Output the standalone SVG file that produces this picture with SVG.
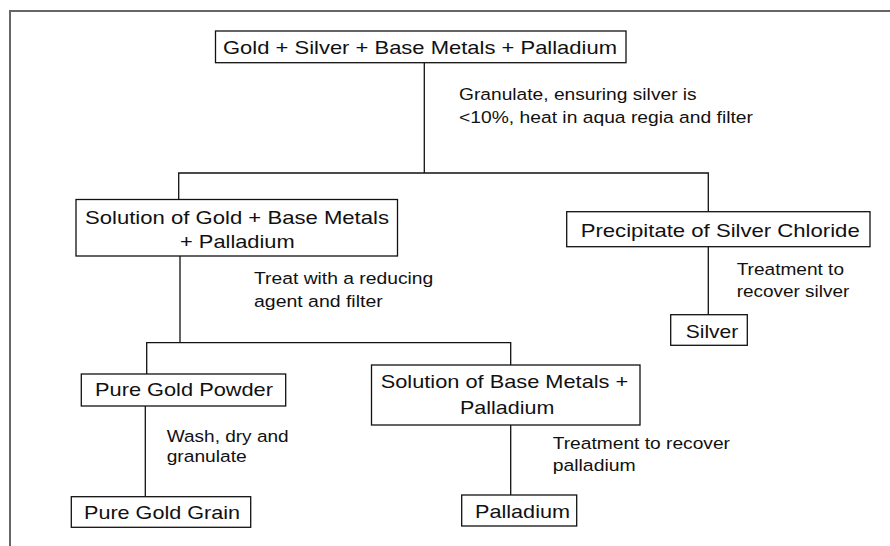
<svg xmlns="http://www.w3.org/2000/svg" width="890" height="546" viewBox="0 0 890 546">
<style>
.box{fill:#fff;stroke:#111;stroke-width:1.3}
.bt{font-family:"Liberation Sans",Arial,sans-serif;font-size:18.6px;fill:#111}
.lt{font-family:"Liberation Sans",Arial,sans-serif;font-size:16.8px;fill:#111}
.conn{fill:none;stroke:#111;stroke-width:1.3}
</style>
<rect width="890" height="546" fill="#fff"/>
<path d="M10 546 V11 H890" fill="none" stroke="#666" stroke-width="2"/>
<g id="connectors" class="conn">
<path d="M424.3 62.7 V173"/>
<path d="M178.7 199.5 V173 H708.3 V211.7"/>
<path d="M180 256 V342.7"/>
<path d="M146.7 374 V342.7 H510.7 V365"/>
<path d="M708.3 246.7 V314.7"/>
<path d="M145.3 406 V496.7"/>
<path d="M510.7 425 V495"/>
</g>
<g id="labels">
<text class="lt" x="459" y="100" textLength="237.7" lengthAdjust="spacingAndGlyphs">Granulate, ensuring silver is</text>
<text class="lt" x="459" y="123" textLength="294" lengthAdjust="spacingAndGlyphs">&lt;10%, heat in aqua regia and filter</text>
<text class="lt" x="254" y="284.3" textLength="179.3" lengthAdjust="spacingAndGlyphs">Treat with a reducing</text>
<text class="lt" x="254" y="306.7" textLength="128.7" lengthAdjust="spacingAndGlyphs">agent and filter</text>
<text class="lt" x="736.7" y="275" textLength="107.3" lengthAdjust="spacingAndGlyphs">Treatment to</text>
<text class="lt" x="736.7" y="296.7" textLength="112.6" lengthAdjust="spacingAndGlyphs">recover silver</text>
<text class="lt" x="166.7" y="441.5" textLength="122" lengthAdjust="spacingAndGlyphs">Wash, dry and</text>
<text class="lt" x="166.7" y="461.5" textLength="80" lengthAdjust="spacingAndGlyphs">granulate</text>
<text class="lt" x="552.7" y="449.3" textLength="177.3" lengthAdjust="spacingAndGlyphs">Treatment to recover</text>
<text class="lt" x="552.7" y="471" textLength="83" lengthAdjust="spacingAndGlyphs">palladium</text>
</g>
<g id="n-top">
<rect class="box" x="215.5" y="31" width="410.5" height="31.7"/>
<text class="bt" x="223" y="54.3" textLength="394" lengthAdjust="spacingAndGlyphs">Gold + Silver + Base Metals + Palladium</text>
</g>
<g id="n-solgold">
<rect class="box" x="76" y="199.5" width="321.5" height="56.5"/>
<text class="bt" x="85" y="224" textLength="304" lengthAdjust="spacingAndGlyphs">Solution of Gold + Base Metals</text>
<text class="bt" x="180" y="248.3" textLength="114.7" lengthAdjust="spacingAndGlyphs">+ Palladium</text>
</g>
<g id="n-precip">
<rect class="box" x="566.7" y="211.7" width="303.3" height="35"/>
<text class="bt" x="580.7" y="236.7" textLength="279" lengthAdjust="spacingAndGlyphs">Precipitate of Silver Chloride</text>
</g>
<g id="n-silver">
<rect class="box" x="670.7" y="314.7" width="76.6" height="30.6"/>
<text class="bt" x="685.7" y="338.3" textLength="52.6" lengthAdjust="spacingAndGlyphs">Silver</text>
</g>
<g id="n-powder">
<rect class="box" x="81.3" y="374" width="204.4" height="32"/>
<text class="bt" x="95" y="396" textLength="178" lengthAdjust="spacingAndGlyphs">Pure Gold Powder</text>
</g>
<g id="n-grain">
<rect class="box" x="71.3" y="496.7" width="179.4" height="30.6"/>
<text class="bt" x="84" y="519.3" textLength="156" lengthAdjust="spacingAndGlyphs">Pure Gold Grain</text>
</g>
<g id="n-solbase">
<rect class="box" x="371.5" y="365" width="268.5" height="60"/>
<text class="bt" x="380.7" y="388.3" textLength="247.6" lengthAdjust="spacingAndGlyphs">Solution of Base Metals +</text>
<text class="bt" x="460" y="414" textLength="94.3" lengthAdjust="spacingAndGlyphs">Palladium</text>
</g>
<g id="n-pd">
<rect class="box" x="461.7" y="495" width="115" height="31"/>
<text class="bt" x="475" y="517.7" textLength="95" lengthAdjust="spacingAndGlyphs">Palladium</text>
</g>
</svg>
